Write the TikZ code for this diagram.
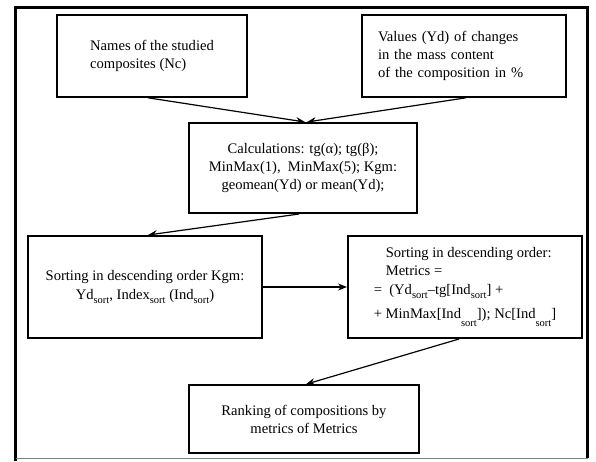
\documentclass[tikz,border=0pt]{standalone}
\usepackage{fontspec}
\setmainfont{Liberation Serif}
\usetikzlibrary{calc,arrows.meta}
\newcommand\sbs[1]{\raisebox{-0.6ex}{\fontsize{10.5}{10.5}\selectfont #1}}
\newcommand\sbl[1]{\raisebox{-1.3ex}{\fontsize{10.5}{10.5}\selectfont #1}}
\tikzset{
  box/.style={draw, line width=1.6pt, rectangle, align=center, inner sep=0pt,
    font=\fontsize{14.6}{18}\selectfont},
  arr/.style={line width=1.2pt, -{Stealth[length=9pt,width=7pt]}},
  frameline/.style={line width=3.5pt}
}
\begin{document}
\begin{tikzpicture}[x=1pt,y=-1pt]
\useasboundingbox (0,0) rectangle (596,461);
\fill[white] (0,0) rectangle (596,461);
% outer frame
\draw[frameline] (15.5,461) -- (15.5,7.5) -- (587.5,7.5) -- (587.5,458);
\draw[gray, line width=1pt] (15.5,458) -- (587.5,458);
% boxes
\node[box, minimum width=190, minimum height=82, align=left] (b1) at (152,56)
  {Names of the studied\\composites (Nc)};
\node[box, text width=172, inner xsep=16, minimum height=82, align=left] (b2) at (464,56)
  {Values (Yd) of changes\\in the mass content\\of the composition in \%};
\node[box, line width=2pt, minimum width=228, minimum height=90] (b3) at (303,168)
  {Calculations: tg(α); tg(β);\\MinMax(1), \ MinMax(5); Kgm:\\geomean(Yd) or mean(Yd);};
\node[box, line width=2pt, minimum width=234, minimum height=102] (b4) at (145,287)
  {Sorting in descending order Kgm:\\[1pt]Yd\sbs{sort}, Index\sbs{sort} (Ind\sbs{sort})};
\node[box, line width=2pt, minimum width=234, minimum height=102, align=left] (b5) at (465,287)
  {\hspace{12pt}Sorting in descending order:\\\hspace{12pt}Metrics =\\[1pt]
   = \ (Yd\sbs{sort}--tg[Ind\sbs{sort}] +\\[6pt]
   + MinMax[Ind\sbl{sort}]); Nc[Ind\sbl{sort}]};
\node[box, minimum width=230, minimum height=68] (b6) at (304,419)
  {Ranking of compositions by\\metrics of Metrics};
% connectors
\draw[arr] ($(b1.south)+(-4,0)$) -- ($(b3.north)+(2,0)$);
\draw[arr] ($(b2.south)+(2,0)$) -- ($(b3.north)+(4,0)$);
\draw[arr] ($(b3.south)+(-4,0)$) -- ($(b4.north)+(3,0)$);
\draw[arr] (b4.east) -- (b5.west);
\draw[arr] ($(b5.south)+(-6,0)$) -- ($(b6.north)+(2,0)$);
\end{tikzpicture}
\end{document}
